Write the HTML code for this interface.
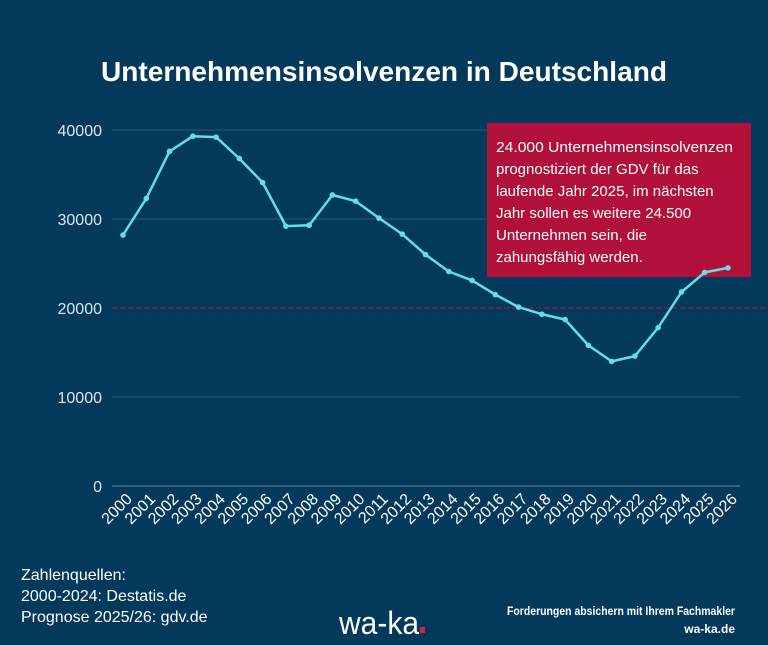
<!DOCTYPE html>
<html><head><meta charset="utf-8"><style>
body{margin:0;width:768px;height:640px;background:#033a5c;overflow:hidden;font-family:"Liberation Sans",sans-serif}
</style></head><body>
<svg width="768" height="640" xmlns="http://www.w3.org/2000/svg" font-family="Liberation Sans, sans-serif">
<rect width="768" height="640" fill="#033a5c"/>
<text x="384" y="81" fill="#fff" font-size="28" font-weight="bold" text-anchor="middle" textLength="566" lengthAdjust="spacingAndGlyphs">Unternehmensinsolvenzen in Deutschland</text>
<g stroke="#2a5a7a" stroke-width="1">
<line x1="112" x2="740" y1="130" y2="130"/><line x1="112" x2="740" y1="219" y2="219"/>
<line x1="112" x2="740" y1="397" y2="397"/><line x1="112" x2="740" y1="486" y2="486" stroke="#6a8aa0"/>
</g>
<line x1="112" x2="768" y1="308" y2="308" stroke="#8a1a40" stroke-width="1.5" stroke-dasharray="5,3"/>
<g fill="#dde6ee" font-size="16" text-anchor="end">
<text x="102" y="136">40000</text><text x="102" y="225">30000</text><text x="102" y="314">20000</text><text x="102" y="403">10000</text><text x="102" y="492">0</text>
</g>
<g id="xl" fill="#fff" font-size="16" text-anchor="end"></g>
<rect x="487" y="123" width="264" height="154" fill="#b0103a"/>
<g fill="#fff" font-size="15">
<text x="496" y="152" textLength="237" lengthAdjust="spacingAndGlyphs">24.000  Unternehmensinsolvenzen</text>
<text x="496" y="174">prognostiziert der GDV für das</text>
<text x="496" y="196">laufende Jahr 2025, im nächsten</text>
<text x="496" y="218">Jahr sollen es weitere 24.500</text>
<text x="496" y="240">Unternehmen sein, die</text>
<text x="496" y="262">zahungsfähig werden.</text>
</g>
<polyline id="ln" fill="none" stroke="#62dfe6" stroke-width="2.5" stroke-linejoin="round"/>
<g id="pts" fill="#62dfe6"></g>
<g fill="#fff" font-size="16">
<text x="21" y="580">Zahlenquellen:</text>
<text x="21" y="601">2000-2024: Destatis.de</text>
<text x="21" y="622">Prognose 2025/26: gdv.de</text>
</g>
<text x="339" y="634" fill="#fff" font-size="32" textLength="80" lengthAdjust="spacingAndGlyphs">wa-ka</text>
<rect x="420" y="627" width="5" height="6" fill="#e02030"/>
<g fill="#fff" font-size="12" font-weight="bold" text-anchor="end">
<text x="735" y="615" textLength="228" lengthAdjust="spacingAndGlyphs">Forderungen absichern mit Ihrem Fachmakler</text>
<text x="735" y="633">wa-ka.de</text>
</g>
</svg>
<script>
var v=[28200,32300,37600,39300,39200,36800,34100,29200,29300,32700,32000,30100,28300,26000,24100,23100,21500,20100,19300,18700,15800,14000,14600,17800,21800,24000,24500];
var ns="http://www.w3.org/2000/svg",p=[],g=document.getElementById('pts'),xl=document.getElementById('xl');
v.forEach(function(d,i){var x=123+i*605/26,y=486-d*0.0089;p.push(x.toFixed(1)+','+y.toFixed(1));
var c=document.createElementNS(ns,'circle');c.setAttribute('cx',x);c.setAttribute('cy',y);c.setAttribute('r',2.8);g.appendChild(c);
var t=document.createElementNS(ns,'text');t.setAttribute('transform','translate('+(x+10)+',500) rotate(-45)');t.textContent=2000+i;xl.appendChild(t);});
document.getElementById('ln').setAttribute('points',p.join(' '));
</script>
</body></html>
